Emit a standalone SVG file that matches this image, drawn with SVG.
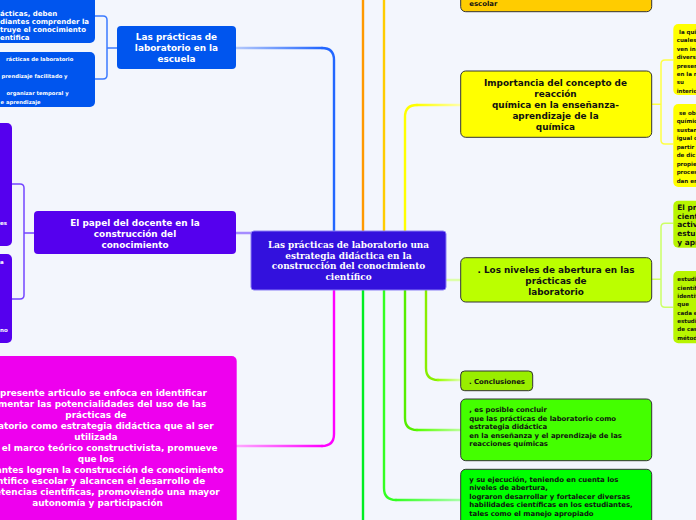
<svg xmlns="http://www.w3.org/2000/svg" width="696" height="520" viewBox="0 0 696 520">
<style>
.s{font-family:"DejaVu Sans",Verdana,sans-serif;font-weight:bold}
.serif{font-family:"DejaVu Serif","Liberation Serif",serif;font-weight:bold;font-size:8.9px;fill:#fff}
.w{fill:#fff}.k{fill:#111}
.t9{font-size:8.9px}.t84{font-size:8.9px}.t7{font-size:6.9px}.t72{font-size:7px}.t6{font-size:5.5px}.t52{font-size:5.25px}.t75{font-size:7.4px}
.e{fill:none;stroke-width:2.4;stroke-linecap:round}
.b{fill:none;stroke-width:1.5}
.dk{stroke:#333;stroke-width:1}
</style>
<defs>
<linearGradient id="gB" gradientUnits="userSpaceOnUse" x1="322" y1="0" x2="236" y2="0"><stop offset="0" stop-color="#2266ff"/><stop offset="1" stop-color="#b5c9fb"/></linearGradient>
<linearGradient id="gM" gradientUnits="userSpaceOnUse" x1="322" y1="0" x2="236" y2="0"><stop offset="0" stop-color="#ff00ff"/><stop offset="1" stop-color="#ffaaff"/></linearGradient>
<linearGradient id="gY" gradientUnits="userSpaceOnUse" x1="417" y1="0" x2="460" y2="0"><stop offset="0" stop-color="#ffff00"/><stop offset="1" stop-color="#ffffaa"/></linearGradient>
<linearGradient id="gL" gradientUnits="userSpaceOnUse" x1="438" y1="0" x2="460" y2="0"><stop offset="0" stop-color="#99ff00"/><stop offset="1" stop-color="#ddffaa"/></linearGradient>
<linearGradient id="gG1" gradientUnits="userSpaceOnUse" x1="417" y1="0" x2="460" y2="0"><stop offset="0" stop-color="#55ff00"/><stop offset="1" stop-color="#bbff99"/></linearGradient>
<linearGradient id="gG2" gradientUnits="userSpaceOnUse" x1="396" y1="0" x2="460" y2="0"><stop offset="0" stop-color="#33ff22"/><stop offset="1" stop-color="#aaffaa"/></linearGradient>
</defs>
<rect width="696" height="520" fill="#f3f6fd"/>
<g id="connectors">
<path class="e" stroke="#2266ff" d="M334,231 V60 Q334,48 322,48"/>
<path class="e" stroke="url(#gB)" d="M322,48 H236"/>
<path class="e" stroke="#ff9900" d="M363,231 V-5"/>
<path class="e" stroke="#ffcc00" d="M384,231 V-5"/>
<path class="e" stroke="#ffff00" d="M405,231 V117 Q405,105 417,105"/>
<path class="e" stroke="url(#gY)" d="M417,105 H460"/>
<path class="e" stroke="#ff00ff" d="M334,290 V434 Q334,446 322,446"/>
<path class="e" stroke="url(#gM)" d="M322,446 H236"/>
<path class="e" stroke="#00ee22" d="M363,290 V525"/>
<path class="e" stroke="#33ff22" d="M384,290 V488 Q384,500 396,500"/>
<path class="e" stroke="url(#gG2)" d="M396,500 H460"/>
<path class="e" stroke="#55ee00" d="M405,290 V418 Q405,430 417,430"/>
<path class="e" stroke="url(#gG1)" d="M417,430 H460"/>
<path class="e" stroke="#88ee00" d="M426,290 V368 Q426,380 438,380"/>
<path class="e" stroke="url(#gL)" d="M438,380 H460"/>
<path class="e" stroke="#ddffaa" d="M446,280 H460"/>
<path class="e" stroke="#a58cff" d="M251,233 H236"/>
<path class="b" stroke="#3d7bff" d="M95,16 H103 Q107,16 107,20 V75 Q107,79 103,79 H95 M107,48 H117"/>
<path class="b" stroke="#7446ff" d="M12,184 H20 Q24,184 24,188 V295 Q24,299 20,299 H12 M24,233 H34"/>
<path class="b" stroke="#ffff44" d="M651.7,104.3 H661 M673.3,60 H665 Q661,60 661,64 V140 Q661,144 665,144 H673.3"/>
<path class="b" stroke="#ccff66" d="M651.7,279.3 H661 M673.3,223.3 H665 Q661,223.3 661,227.3 V303.3 Q661,307.3 665,307.3 H673.3"/>
</g>
<g id="node-escolar">
<rect x="460.7" y="-10" width="191" height="21.7" rx="5" fill="#ffcc00" class="dk"/>
<text class="s k t7" x="469.3" y="5.5">escolar</text>
</g>
<g id="node-escuela">
<rect x="117" y="26" width="119" height="43" rx="4" fill="#0055ee"/>
<text class="s w t9" text-anchor="middle"><tspan x="176.5" y="39.5">Las prácticas de</tspan><tspan x="176.5" y="50.8">laboratorio en la</tspan><tspan x="176.5" y="62.1">escuela</tspan></text>
</g>
<g id="node-escuela-1">
<rect x="-10" y="-11" width="105" height="54" rx="5" fill="#0055ee"/>
<text class="s w t72"><tspan x="0" y="15.5">ácticas, deben</tspan><tspan x="0" y="23.8">diantes comprender la</tspan><tspan x="0" y="32.1">truye el conocimiento</tspan><tspan x="0" y="40.4">entifica</tspan></text>
</g>
<g id="node-escuela-2">
<rect x="-10" y="52" width="105" height="55" rx="5" fill="#0055ee"/>
<text class="s w t52"><tspan x="6" y="61.3">rácticas de laboratorio</tspan><tspan x="1.5" y="78.1">prendizaje facilitado y</tspan><tspan x="6.5" y="94.8">organizar temporal y</tspan><tspan x="0.5" y="103.8">e aprendizaje</tspan></text>
</g>
<g id="node-docente">
<rect x="34" y="211" width="202" height="43" rx="4" fill="#5500ee"/>
<text class="s w t9" text-anchor="middle"><tspan x="135" y="226">El papel del docente en la</tspan><tspan x="135" y="237">construcción del</tspan><tspan x="135" y="248">conocimiento</tspan></text>
</g>
<g id="node-docente-1">
<rect x="-10" y="123" width="22" height="123" rx="5" fill="#5500ee"/>
<text class="s w t6" x="0" y="225.3">es</text>
</g>
<g id="node-docente-2">
<rect x="-10" y="254" width="22" height="89" rx="5" fill="#5500ee"/>
<text class="s w t6" x="0" y="263.7">a</text>
<text class="s w t6" x="0" y="332">no</text>
</g>
<g id="node-resumen">
<rect x="-10" y="356" width="246.7" height="180" rx="5" fill="#ee00ee"/>
<text class="s w t84">
<tspan x="210" y="396" text-anchor="end"> presente articulo se enfoca en identificar</tspan>
<tspan x="209.3" y="407" text-anchor="end">ementar las potencialidades del uso de las</tspan>
<tspan x="97.5" y="418" text-anchor="middle">prácticas de</tspan>
<tspan x="216.7" y="429" text-anchor="end">ratorio como estrategia didáctica que al ser</tspan>
<tspan x="97.5" y="440" text-anchor="middle">utilizada</tspan>
<tspan x="220.7" y="451" text-anchor="end">el marco teórico constructivista, promueve</tspan>
<tspan x="97.5" y="462" text-anchor="middle">que los</tspan>
<tspan x="226.7" y="473" text-anchor="end">antes logren la construcción de conocimiento</tspan>
<tspan x="208.3" y="484" text-anchor="end">ntifico escolar y alcancen el desarrollo de</tspan>
<tspan x="222.7" y="495" text-anchor="end">etencias científicas, promoviendo una mayor</tspan>
<tspan x="97.5" y="506" text-anchor="middle">autonomía y participación</tspan>
</text>
</g>
<g id="node-central">
<rect x="251" y="231" width="195" height="59" rx="3" fill="#3311dd" stroke="#8a7cf5" stroke-width="1"/>
<text class="serif" text-anchor="middle"><tspan x="348.5" y="247.8">Las prácticas de laboratorio una</tspan><tspan x="348.5" y="258.6">estrategia didáctica en la</tspan><tspan x="348.5" y="269.4">construcción del conocimiento</tspan><tspan x="348.5" y="280.2">científico</tspan></text>
</g>
<g id="node-reaccion">
<rect x="460.7" y="71" width="191" height="66.3" rx="5" fill="#ffff00" class="dk"/>
<text class="s k t9" text-anchor="middle"><tspan x="555.5" y="85.5">Importancia del concepto de</tspan><tspan x="555.5" y="96.6">reacción</tspan><tspan x="555.5" y="107.7">química en la enseñanza-</tspan><tspan x="555.5" y="118.8">aprendizaje de la</tspan><tspan x="555.5" y="129.9">química</tspan></text>
</g>
<g id="node-reaccion-1">
<rect x="673.3" y="24" width="40" height="71" rx="5" fill="#ffff00"/>
<text class="s k t6"><tspan x="679" y="34">la qui</tspan><tspan x="676.7" y="42.4">cuales</tspan><tspan x="676.7" y="50.8">ven in</tspan><tspan x="676.7" y="59.2">divers</tspan><tspan x="676.7" y="67.6">presen</tspan><tspan x="676.7" y="76">en la r</tspan><tspan x="676.7" y="84.4">su</tspan><tspan x="676.7" y="92.8">interio</tspan></text>
</g>
<g id="node-reaccion-2">
<rect x="673.3" y="104" width="40" height="83" rx="5" fill="#ffff00"/>
<text class="s k t6"><tspan x="679" y="114.7">se ob</tspan><tspan x="676.7" y="123.2">químic</tspan><tspan x="676.7" y="131.7">sustan</tspan><tspan x="676.7" y="140.2">igual c</tspan><tspan x="676.7" y="148.7">partir</tspan><tspan x="676.7" y="157.2">de dic</tspan><tspan x="676.7" y="165.7">propie</tspan><tspan x="676.7" y="174.2">proces</tspan><tspan x="676.7" y="182.7">dan en</tspan></text>
</g>
<g id="node-niveles">
<rect x="460.7" y="257.7" width="191" height="44.3" rx="5" fill="#bbff00" class="dk"/>
<text class="s k t9" text-anchor="middle"><tspan x="556" y="273.2">. Los niveles de abertura en las</tspan><tspan x="556" y="284.2">prácticas de</tspan><tspan x="556" y="295.2">laboratorio</tspan></text>
</g>
<g id="node-niveles-1">
<rect x="673.3" y="200.7" width="40" height="47" rx="5" fill="#b8f500"/>
<text class="s k t75"><tspan x="677.3" y="210.2">El pro</tspan><tspan x="677.3" y="218.8">cient</tspan><tspan x="677.3" y="227.4">activ</tspan><tspan x="677.3" y="236">estu</tspan><tspan x="677.3" y="244.6">y apr</tspan></text>
</g>
<g id="node-niveles-2">
<rect x="673.3" y="271" width="40" height="72.3" rx="5" fill="#b8f500"/>
<text class="s k t6"><tspan x="677.3" y="281.4">estudi</tspan><tspan x="677.3" y="289.7">científ</tspan><tspan x="677.3" y="298">identif</tspan><tspan x="677.3" y="306.3">que</tspan><tspan x="677.3" y="314.6">cada e</tspan><tspan x="677.3" y="322.9">estudi</tspan><tspan x="677.3" y="331.2">de cas</tspan><tspan x="677.3" y="339.5">métod</tspan></text>
</g>
<g id="node-conclusiones">
<rect x="460.7" y="371" width="72" height="19.7" rx="4" fill="#99ee00" class="dk"/>
<text class="s k t7" x="469" y="383.5">. Conclusiones</text>
</g>
<g id="node-concluir">
<rect x="460.7" y="399" width="191" height="61.7" rx="5" fill="#44ff00" class="dk"/>
<text class="s k t7"><tspan x="469.3" y="412">, es posible concluir</tspan><tspan x="469.3" y="420.5">que las prácticas de laboratorio como</tspan><tspan x="469.3" y="429">estrategia didáctica</tspan><tspan x="469.3" y="437.5">en la enseñanza y el aprendizaje de las</tspan><tspan x="469.3" y="446">reacciones químicas</tspan></text>
</g>
<g id="node-ejecucion">
<rect x="460.7" y="469.3" width="191" height="61.4" rx="5" fill="#00ff00" class="dk"/>
<text class="s k t7"><tspan x="469.3" y="481.8">y su ejecución, teniendo en cuenta los</tspan><tspan x="469.3" y="490.3">niveles de abertura,</tspan><tspan x="469.3" y="498.8">lograron desarrollar y fortalecer diversas</tspan><tspan x="469.3" y="507.3">habilidades científicas en los estudiantes,</tspan><tspan x="469.3" y="515.8">tales como el manejo apropiado</tspan></text>
</g>
</svg>
